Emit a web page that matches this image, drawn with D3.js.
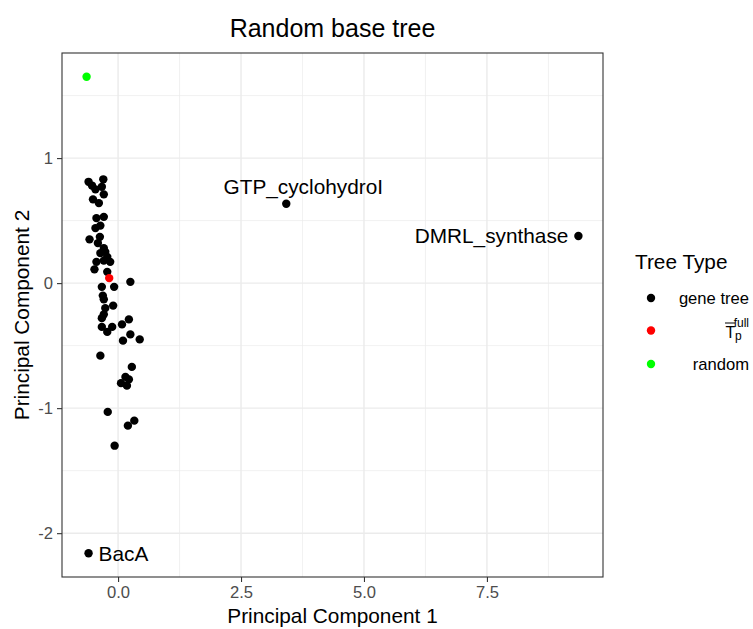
<!DOCTYPE html>
<html>
<head>
<meta charset="utf-8">
<script src="https://cdn.jsdelivr.net/npm/d3@7"></script>
<style>
  body { margin: 0; background: #fff; }
  text { font-family: "Liberation Sans", Arial, sans-serif; }
</style>
</head>
<body>
<div id="chart"></div>
<script>
// gene tree points (principal components)
var geneX = [-0.60, -0.53, -0.46, -0.30, -0.33, -0.29, -0.51, -0.39, -0.44, -0.29,
             -0.36, -0.46, -0.58, -0.37, -0.41, -0.29, -0.26, -0.36, -0.22, -0.16,
             -0.44, -0.29, -0.48, -0.22, 0.25, -0.33, -0.08, -0.31, -0.29, -0.10,
             -0.26, -0.29, -0.33, 0.22, -0.33, -0.12, 0.08, -0.22, 0.25, 0.10,
             0.44, -0.36, 0.28, 0.15, 0.06, 0.18, 0.22, -0.21, 0.33, 0.20, -0.07];
var geneY = [0.81, 0.78, 0.75, 0.83, 0.77, 0.71, 0.67, 0.64, 0.52, 0.53,
             0.46, 0.44, 0.35, 0.37, 0.32, 0.28, 0.25, 0.24, 0.21, 0.17,
             0.17, 0.18, 0.11, 0.09, 0.01, -0.03, -0.03, -0.10, -0.13, -0.18,
             -0.20, -0.25, -0.28, -0.29, -0.35, -0.35, -0.33, -0.39, -0.41, -0.46,
             -0.45, -0.58, -0.67, -0.75, -0.80, -0.82, -0.77, -1.03, -1.10, -1.14, -1.30];

// labelled gene trees
var labelNames = ["GTP_cyclohydroI", "DMRL_synthase", "BacA"];
var labelX = [3.42, 9.36, -0.60];
var labelY = [0.635, 0.377, -2.16];

// summary trees
var tpX = [-0.18], tpY = [0.04];
var randomX = [-0.64], randomY = [1.65];

var xTicks = [0, 2.5, 5, 7.5];
var xMinor = [1.25, 3.75, 6.25, 8.75];
var yTicks = [-2, -1, 0, 1];
var yMinor = [-1.5, -0.5, 0.5, 1.5];

var legendKeys = ["gene tree", "tp", "random"];
var legendColors = ["#000000", "#FF0000", "#00FF00"];

var width = 753, height = 629;
var panel = {left: 62, right: 603, top: 53, bottom: 577};

var svg = d3.select("#chart").append("svg")
    .attr("width", width)
    .attr("height", height);

var allX = geneX.concat(labelX, tpX, randomX);
var allY = geneY.concat(labelY, tpY, randomY);
function expand(ext) {
    var pad = (ext[1] - ext[0]) * 0.05;
    return [ext[0] - pad, ext[1] + pad];
}
var x = d3.scaleLinear().domain(expand(d3.extent(allX))).range([panel.left, panel.right]);
var y = d3.scaleLinear().domain(expand(d3.extent(allY))).range([panel.bottom, panel.top]);

// grid
var grid = svg.append("g");
grid.selectAll(".xminor").data(xMinor).enter().append("line")
    .attr("x1", d => x(d)).attr("x2", d => x(d))
    .attr("y1", panel.top).attr("y2", panel.bottom)
    .attr("stroke", "#EBEBEB").attr("stroke-width", 0.7);
grid.selectAll(".yminor").data(yMinor).enter().append("line")
    .attr("y1", d => y(d)).attr("y2", d => y(d))
    .attr("x1", panel.left).attr("x2", panel.right)
    .attr("stroke", "#EBEBEB").attr("stroke-width", 0.7);
grid.selectAll(".xmajor").data(xTicks).enter().append("line")
    .attr("x1", d => x(d)).attr("x2", d => x(d))
    .attr("y1", panel.top).attr("y2", panel.bottom)
    .attr("stroke", "#EBEBEB").attr("stroke-width", 1.4);
grid.selectAll(".ymajor").data(yTicks).enter().append("line")
    .attr("y1", d => y(d)).attr("y2", d => y(d))
    .attr("x1", panel.left).attr("x2", panel.right)
    .attr("stroke", "#EBEBEB").attr("stroke-width", 1.4);

// axes
var xAxis = svg.append("g")
    .attr("transform", "translate(0," + panel.bottom + ")")
    .call(d3.axisBottom(x).tickValues(xTicks).tickFormat(d3.format(".1f")).tickSizeOuter(0).tickSize(5).tickPadding(4));
var yAxis = svg.append("g")
    .attr("transform", "translate(" + panel.left + ",0)")
    .call(d3.axisLeft(y).tickValues(yTicks).tickFormat(d3.format("d")).tickSizeOuter(0).tickSize(5).tickPadding(4));
[xAxis, yAxis].forEach(function (a) {
    a.select(".domain").remove();
    a.selectAll(".tick line").attr("stroke", "#333333").attr("stroke-width", 1.1);
    a.selectAll(".tick text")
        .attr("fill", "#4D4D4D")
        .style("font-size", "16.6px")
        .style("font-family", "'Liberation Sans', Arial, sans-serif");
});
yAxis.selectAll(".tick text").text(function (d) { return d < 0 ? "-" + Math.abs(d) : d; });

// panel border
svg.append("rect")
    .attr("x", panel.left).attr("y", panel.top)
    .attr("width", panel.right - panel.left).attr("height", panel.bottom - panel.top)
    .attr("fill", "none").attr("stroke", "#333333").attr("stroke-width", 1.1);

// points
var pts = svg.append("g");
var genePts = geneX.map((v, i) => [v, geneY[i]]).concat(labelX.map((v, i) => [v, labelY[i]]));
pts.selectAll(".gene").data(genePts).enter().append("circle")
    .attr("cx", d => x(d[0])).attr("cy", d => y(d[1])).attr("r", 4.2)
    .attr("fill", legendColors[0]);
pts.selectAll(".tp").data(tpX.map((v, i) => [v, tpY[i]])).enter().append("circle")
    .attr("cx", d => x(d[0])).attr("cy", d => y(d[1])).attr("r", 4.2)
    .attr("fill", legendColors[1]);
pts.selectAll(".rand").data(randomX.map((v, i) => [v, randomY[i]])).enter().append("circle")
    .attr("cx", d => x(d[0])).attr("cy", d => y(d[1])).attr("r", 4.2)
    .attr("fill", legendColors[2]);

// point labels (repelled by hand)
var labelOffsets = [{dx: 17, dy: -10, anchor: "middle"}, {dx: -10, dy: 7.5, anchor: "end"}, {dx: 10, dy: 7.5, anchor: "start"}];
svg.selectAll(".plabel").data(labelNames).enter().append("text")
    .attr("x", (d, i) => x(labelX[i]) + labelOffsets[i].dx)
    .attr("y", (d, i) => y(labelY[i]) + labelOffsets[i].dy)
    .attr("text-anchor", (d, i) => labelOffsets[i].anchor)
    .style("font-size", "20.8px")
    .attr("fill", "#000")
    .text(d => d);

// titles
svg.append("text")
    .attr("x", (panel.left + panel.right) / 2).attr("y", 37)
    .attr("text-anchor", "middle").style("font-size", "25px")
    .text("Random base tree");
svg.append("text")
    .attr("x", (panel.left + panel.right) / 2).attr("y", 623)
    .attr("text-anchor", "middle").style("font-size", "20.8px")
    .text("Principal Component 1");
svg.append("text")
    .attr("transform", "translate(29," + (panel.top + panel.bottom) / 2 + ") rotate(-90)")
    .attr("text-anchor", "middle").style("font-size", "20.8px")
    .text("Principal Component 2");

// legend
var legend = svg.append("g");
legend.append("text")
    .attr("x", 635).attr("y", 269)
    .style("font-size", "20.8px")
    .text("Tree Type");
var legendY = [298, 330.5, 364];
legend.selectAll(".ldot").data(legendKeys).enter().append("circle")
    .attr("cx", 651).attr("cy", (d, i) => legendY[i]).attr("r", 4.2)
    .attr("fill", (d, i) => legendColors[i]);
legend.append("text")
    .attr("x", 749).attr("y", legendY[0] + 6)
    .attr("text-anchor", "end").style("font-size", "16.6px")
    .text("gene tree");
legend.append("text")
    .attr("x", 749).attr("y", legendY[2] + 6)
    .attr("text-anchor", "end").style("font-size", "16.6px")
    .text("random");
// T-bar with p subscript and "full" superscript
var tp = legend.append("g");
tp.append("text").attr("x", 725.5).attr("y", 337.5).style("font-size", "16px").text("T");
tp.append("line").attr("x1", 725).attr("x2", 735).attr("y1", 323).attr("y2", 323)
    .attr("stroke", "#000").attr("stroke-width", 1);
tp.append("text").attr("x", 749).attr("y", 326.5).attr("text-anchor", "end")
    .style("font-size", "12px").text("full");
tp.append("text").attr("x", 735).attr("y", 340).style("font-size", "12px").text("p");
</script>
</body>
</html>
